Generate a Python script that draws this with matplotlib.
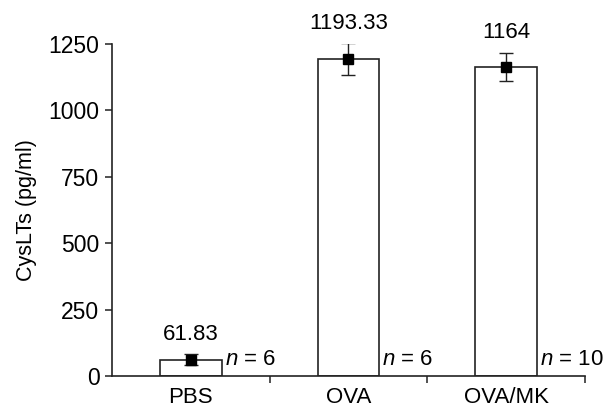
import numpy as np
import matplotlib
matplotlib.use('Agg')
import matplotlib.pyplot as plt

plt.rcParams['font.family'] = ['Liberation Sans', 'DejaVu Sans']
plt.rcParams['mathtext.fontset'] = 'custom'
plt.rcParams['mathtext.rm'] = 'Liberation Sans'
plt.rcParams['mathtext.it'] = 'Liberation Sans:italic'

groups = ['PBS', 'OVA', 'OVA/MK']
means = [61.83, 1193.33, 1164]
errors = [20, 59, 53]
value_labels = ['61.83', '1193.33', '1164']
n_counts = [6, 6, 10]

fig = plt.figure(figsize=(6.05, 4.08), dpi=100)
ax = fig.add_axes([0.185, 0.0784, 0.782, 0.8137])

x = np.arange(len(groups)) + 0.5
ax.bar(x, means, width=0.39, color='white', edgecolor='#222222', linewidth=1.2, zorder=2)
ax.errorbar(x, means, yerr=errors, fmt='s', color='black', ms=7.5, ecolor='#222222',
            elinewidth=1.0, capsize=5, capthick=1.0, zorder=3)

fs = 16
for xi, m, e, lab in zip(x, means, errors, value_labels):
    ax.annotate(lab, (xi, m + e), xytext=(0, 7), textcoords='offset points',
                ha='center', va='bottom', fontsize=fs, annotation_clip=False)

for xi, n in zip(x, n_counts):
    ax.text(xi + 0.215, 62, r'$\it{n}$ = %d' % n, ha='left', va='center', fontsize=fs)

ax.set_xlim(0, 3)
ax.set_ylim(0, 1250)
ax.set_yticks([0, 250, 500, 750, 1000, 1250])
ax.set_xticks(x)
ax.set_xticklabels(groups)
ax.set_xticks([1, 2, 3], minor=True)
ax.tick_params(axis='x', which='major', length=0, pad=8, labelsize=fs)
ax.tick_params(axis='x', which='minor', length=5, width=1.1, color='#222222', direction='out')
ax.tick_params(axis='y', length=5, width=1.1, color='#222222', labelsize=16.5, pad=4)
ax.set_ylabel('CysLTs (pg/ml)', fontsize=15.5, labelpad=8)

for side in ['top', 'right']:
    ax.spines[side].set_visible(False)
for side in ['left', 'bottom']:
    ax.spines[side].set_linewidth(1.2)
    ax.spines[side].set_color('#222222')

fig.savefig('out.png', dpi=100)
